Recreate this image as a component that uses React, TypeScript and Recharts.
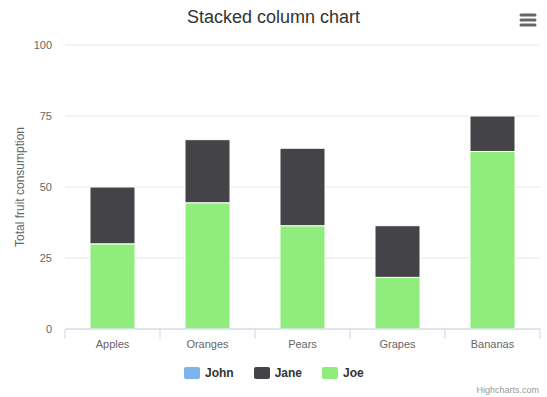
import { Bar, BarChart, CartesianGrid, XAxis, YAxis } from "recharts";

const categories = ["Apples", "Oranges", "Pears", "Grapes", "Bananas"];
const john = [5, 3, 4, 7, 2];
const jane = [2, 2, 3, 2, 1];
const joe = [3, 4, 4, 2, 5];
const yTicks = [0, 25, 50, 75, 100];

const legendItems = [
  { name: "John", color: "#7cb5ec" },
  { name: "Jane", color: "#434348" },
  { name: "Joe", color: "#90ed7d" },
];

// percent stacking, like the original
const data = categories.map((name, i) => {
  const total = john[i] + jane[i] + joe[i];
  return {
    name,
    John: (john[i] / total) * 100,
    Jane: (jane[i] / total) * 100,
    Joe: (joe[i] / total) * 100,
  };
});

const font = '"Liberation Sans", Arial, Helvetica, sans-serif';
const half = 47.5;

function XTick(props: any) {
  const { x, y, payload, index } = props;
  return (
    <g>
      <line x1={x - half} x2={x - half} y1={y} y2={y + 10} stroke="#ccd6eb" />
      {index === categories.length - 1 && (
        <line x1={x + half} x2={x + half} y1={y} y2={y + 10} stroke="#ccd6eb" />
      )}
      <text x={x} y={y + 19} textAnchor="middle" fill="#666" fontSize={11} fontFamily={font}>
        {payload.value}
      </text>
    </g>
  );
}

export default function App() {
  return (
    <div style={{ position: "absolute", left: 0, top: 0, width: 547, height: 397, fontFamily: font, background: "#fff" }}>
      <div style={{ position: "absolute", top: 7, left: 0, width: 547, textAlign: "center", fontSize: 18, color: "#333" }}>
        Stacked column chart
      </div>
      <svg style={{ position: "absolute", left: 518, top: 12 }} width={20} height={16}>
        {[3, 8, 13].map((y) => (
          <line key={y} x1={3} x2={17} y1={y} y2={y} stroke="#666" strokeWidth={3} strokeLinecap="round" />
        ))}
      </svg>
      <BarChart
        width={547}
        height={397}
        data={data}
        margin={{ top: 45, right: 7, left: 0, bottom: 38 }}
        style={{ position: "absolute", left: 0, top: 0 }}
      >
        <CartesianGrid vertical={false} stroke="#e6e6e6" />
        <XAxis
          dataKey="name"
          height={30}
          stroke="#ccd6eb"
          tickLine={false}
          tickSize={0}
          tickMargin={0}
          tick={<XTick />}
          interval={0}
        />
        <YAxis
          width={65}
          domain={[0, 100]}
          ticks={yTicks}
          axisLine={false}
          tickLine={false}
          tickMargin={7}
          tick={{ fill: "#666", stroke: "none", fontSize: 11, fontFamily: font }}
          label={{
            value: "Total fruit consumption",
            angle: -90,
            position: "insideLeft",
            offset: 20,
            style: { textAnchor: "middle", fill: "#666", fontSize: 12, fontFamily: font },
          }}
        />
        <Bar dataKey="Joe" stackId="a" fill="#90ed7d" stroke="#fff" barSize={45} isAnimationActive={false} />
        <Bar dataKey="Jane" stackId="a" fill="#434348" stroke="#fff" barSize={45} isAnimationActive={false} />
        <Bar dataKey="John" stackId="a" fill="#7cb5ec" fillOpacity={0} strokeOpacity={0} barSize={45} isAnimationActive={false} />
      </BarChart>
      <div style={{ position: "absolute", top: 366, left: 184, display: "flex", alignItems: "center" }}>
        {legendItems.map((item) => (
          <div key={item.name} style={{ display: "flex", alignItems: "center", marginRight: 20 }}>
            <span style={{ width: 16, height: 12, borderRadius: 2, background: item.color, marginRight: 5 }} />
            <span style={{ fontSize: 12, fontWeight: "bold", color: "#333" }}>{item.name}</span>
          </div>
        ))}
      </div>
      <div style={{ position: "absolute", top: 385, right: 8, fontSize: 9, color: "#999" }}>Highcharts.com</div>
    </div>
  );
}
